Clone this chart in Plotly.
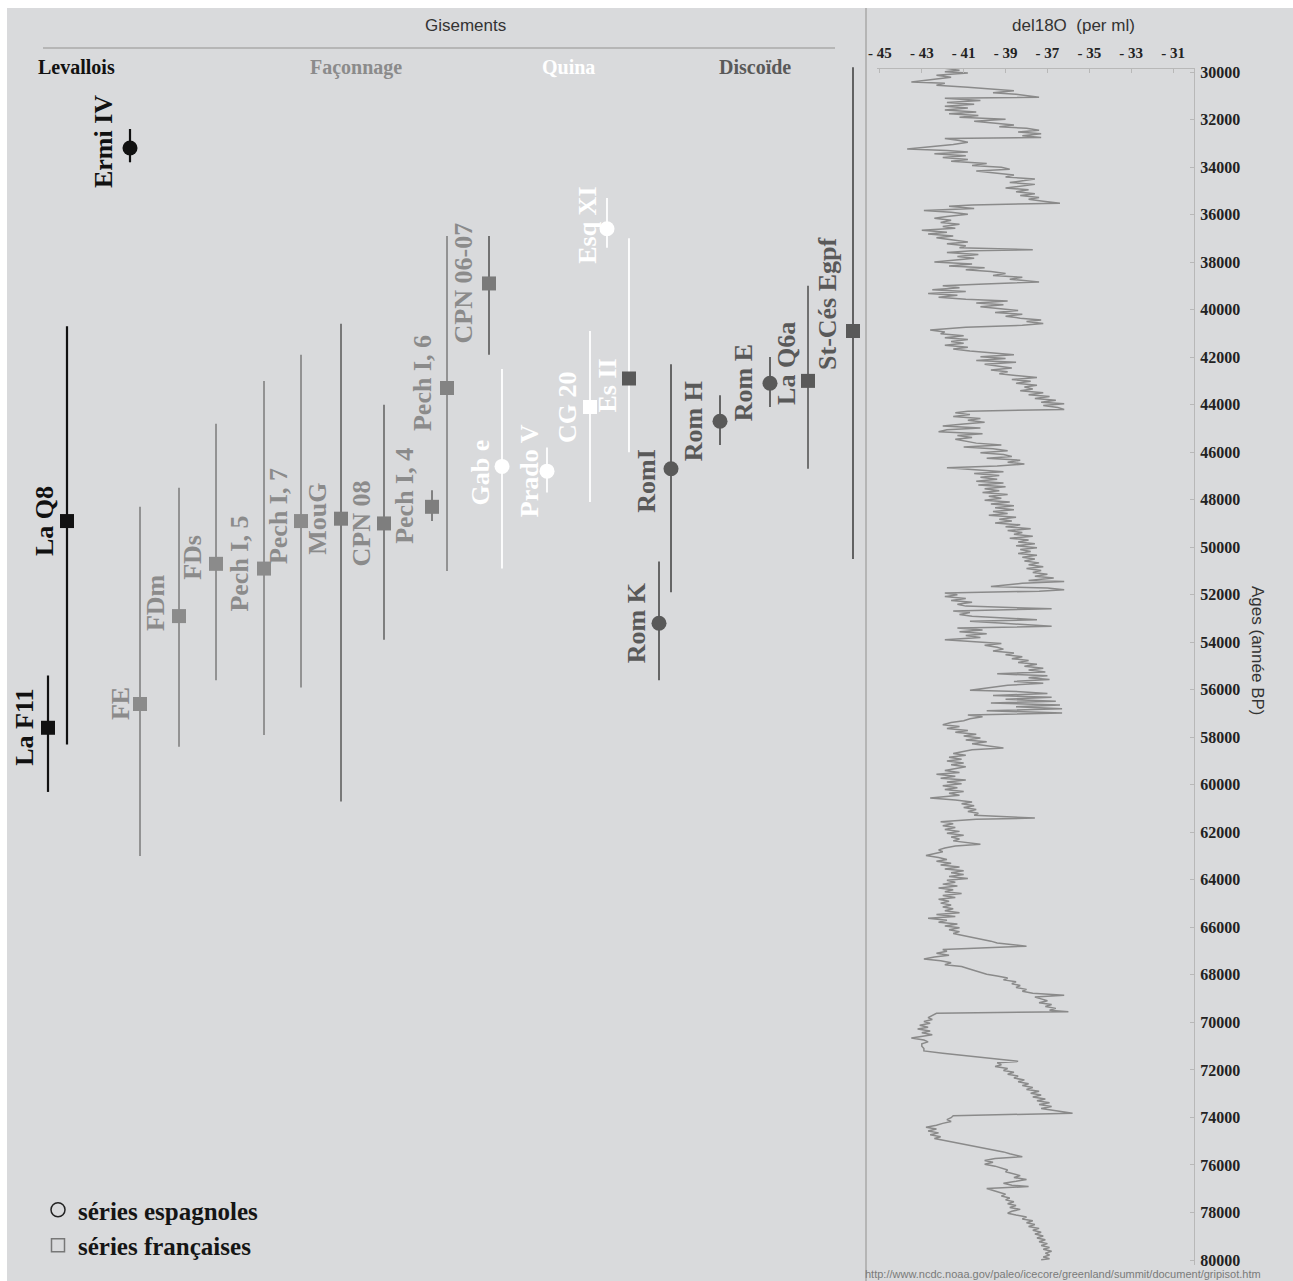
import plotly.graph_objects as go

# ---------------- data ----------------
site_name = ["La F11", "La Q8", "Ermi IV", "FE", "FDm", "FDs", "Pech I, 5", "Pech I, 7",
             "MouG", "CPN 08", "Pech I, 4", "Pech I, 6", "CPN 06-07", "Gab e", "Prado V",
             "CG 20", "Esq XI", "Es II", "RomI", "Rom K", "Rom H", "Rom E", "La Q6a", "St-Cés Egpf"]
site_column = [4.8, 6.7, 13.0, 14.0, 17.9, 21.6, 26.4, 30.1, 34.1, 38.4, 43.2, 44.7, 48.9,
               50.2, 54.7, 59.0, 60.7, 62.9, 67.1, 65.9, 72.0, 77.0, 80.8, 85.3]
site_age = [57600, 48900, 33200, 56600, 52900, 50700, 50900, 48900, 48800, 49000, 48300, 43300,
            38900, 46600, 46800, 44100, 36600, 42900, 46700, 53200, 44700, 43100, 43000, 40900]
site_young = [55400, 40700, 32400, 48300, 47500, 44800, 43000, 41900, 40600, 44000, 47600, 36900,
              36900, 42500, 45800, 40900, 35300, 37000, 42300, 50600, 43600, 42000, 39000, 29800]
site_old = [60300, 58300, 33800, 63000, 58400, 55600, 57900, 55900, 60700, 53900, 48900, 51000,
            41900, 50900, 47700, 48100, 37400, 46000, 51900, 55600, 45700, 44100, 46700, 50500]
site_industry = ["Levallois"] * 3 + ["Façonnage"] * 10 + ["Quina"] * 5 + ["Discoïde"] * 6
site_origin = ["fr", "fr", "es", "fr", "fr", "fr", "fr", "fr", "fr", "fr", "fr", "fr", "fr",
               "es", "es", "fr", "es", "fr", "es", "es", "es", "es", "fr", "fr"]

industry_headers = ["Levallois", "Façonnage", "Quina", "Discoïde"]

grip_age = [
    29830, 29845, 29930, 29990, 30040, 30140, 30220, 30300, 30420, 30470,
    30560, 30640, 30720, 30790, 30870, 30940, 31060, 31110, 31200, 31280,
    31360, 31440, 31520, 31600, 31680, 31760, 31830, 31900, 31990, 32070,
    32150, 32230, 32300, 32370, 32450, 32520, 32600, 32680, 32760, 32800,
    32880, 32960, 33050, 33240, 33300, 33370, 33440, 33520, 33600, 33680,
    33760, 33850, 33930, 34010, 34090, 34170, 34260, 34340, 34420, 34500,
    34570, 34650, 34730, 34800, 34880, 34960, 35040, 35120, 35200, 35280,
    35360, 35440, 35520, 35600, 35650, 35740, 35830, 35900, 35990, 36080,
    36160, 36240, 36330, 36410, 36500, 36580, 36660, 36740, 36820, 36900,
    36980, 37070, 37150, 37230, 37310, 37400, 37480, 37520, 37600, 37680,
    37760, 37840, 37920, 38000, 38080, 38160, 38240, 38320, 38400, 38480,
    38560, 38640, 38720, 38840, 38920, 39000, 39080, 39160, 39240, 39320,
    39400, 39480, 39560, 39640, 39720, 39800, 39880, 39960, 40040, 40120,
    40200, 40280, 40360, 40440, 40500, 40580, 40660, 40740, 40860, 40940,
    41020, 41100, 41180, 41260, 41340, 41420, 41500, 41580, 41660, 41740,
    41820, 41900, 41980, 42060, 42140, 42220, 42300, 42380, 42460, 42540,
    42620, 42700, 42780, 42860, 42940, 43020, 43100, 43180, 43260, 43340,
    43420, 43500, 43580, 43660, 43740, 43820, 43900, 43960, 44040, 44120,
    44200, 44280, 44340, 44420, 44500, 44580, 44660, 44740, 44820, 44900,
    44980, 45060, 45140, 45220, 45300, 45380, 45460, 45540, 45620, 45700,
    45780, 45860, 45940, 46020, 46100, 46180, 46260, 46340, 46420, 46500,
    46580, 46660, 46740, 46820, 46900, 46980, 47060, 47140, 47220, 47300,
    47380, 47460, 47540, 47620, 47700, 47780, 47860, 47940, 48020, 48100,
    48180, 48260, 48340, 48420, 48500, 48580, 48660, 48740, 48820, 48900,
    48980, 49060, 49140, 49220, 49300, 49380, 49460, 49540, 49620, 49700,
    49780, 49860, 49940, 50020, 50100, 50180, 50260, 50340, 50420, 50500,
    50580, 50660, 50740, 50820, 50900, 50980, 51060, 51140, 51220, 51300,
    51400, 51440, 51520, 51650, 51720, 51790, 51850, 51930, 52000, 52080,
    52160, 52240, 52320, 52400, 52480, 52590, 52680, 52750, 52830, 52910,
    53050, 53120, 53200, 53330, 53400, 53480, 53560, 53640, 53720, 53800,
    53890, 53970, 54050, 54130, 54210, 54290, 54370, 54450, 54530, 54610,
    54690, 54770, 54850, 54930, 55010, 55090, 55170, 55250, 55330, 55410,
    55490, 55570, 55650, 55730, 55810, 56020, 56080, 56160, 56240, 56320,
    56400, 56480, 56560, 56640, 56720, 56800, 56880, 56980, 57060, 57140,
    57220, 57300, 57380, 57470, 57550, 57630, 57710, 57790, 57870, 57950,
    58030, 58110, 58190, 58270, 58350, 58450, 58520, 58600, 58680, 58760,
    58840, 58920, 59000, 59080, 59160, 59240, 59320, 59400, 59480, 59560,
    59640, 59720, 59800, 59880, 59960, 60040, 60120, 60200, 60280, 60360,
    60440, 60560, 60640, 60720, 60800, 60880, 60960, 61040, 61120, 61200,
    61280, 61400, 61450, 61560, 61640, 61720, 61800, 61880, 61960, 62040,
    62120, 62200, 62280, 62360, 62500, 62580, 62660, 62740, 62820, 62900,
    62980, 63060, 63140, 63220, 63300, 63380, 63460, 63540, 63620, 63700,
    63780, 63860, 63940, 64020, 64100, 64180, 64260, 64340, 64420, 64500,
    64580, 64660, 64740, 64820, 64900, 64980, 65060, 65140, 65220, 65300,
    65380, 65460, 65540, 65620, 65700, 65780, 65860, 65940, 66020, 66100,
    66180, 66260, 66340, 66420, 66500, 66580, 66660, 66790, 66930, 67010,
    67090, 67170, 67250, 67330, 67410, 67490, 67570, 67650, 67730, 67810,
    67890, 67970, 68050, 68130, 68210, 68290, 68370, 68450, 68530, 68610,
    68690, 68770, 68860, 68930, 69010, 69090, 69170, 69250, 69330, 69410,
    69490, 69550, 69620, 69700, 69800, 69880, 69960, 70040, 70120, 70200,
    70280, 70360, 70440, 70520, 70600, 70660, 70740, 70820, 70900, 71000,
    71100, 71200, 71300, 71400, 71500, 71640, 71700, 71780, 71860, 71940,
    72020, 72100, 72180, 72260, 72340, 72420, 72500, 72580, 72660, 72740,
    72820, 72900, 72980, 73060, 73140, 73220, 73300, 73380, 73460, 73540,
    73620, 73700, 73820, 73930, 74010, 74090, 74170, 74250, 74330, 74410,
    74490, 74570, 74650, 74730, 74810, 74890, 74970, 75050, 75130, 75210,
    75290, 75370, 75450, 75530, 75650, 75730, 75810, 75890, 75970, 76050,
    76130, 76210, 76290, 76370, 76450, 76530, 76610, 76690, 76770, 76850,
    76910, 76990, 77070, 77150, 77230, 77310, 77390, 77470, 77550, 77630,
    77710, 77790, 77870, 77950, 78030, 78110, 78190, 78270, 78350, 78430,
    78510, 78590, 78670, 78750, 78830, 78910, 78990, 79070, 79150, 79230,
    79310, 79390, 79470, 79550, 79630, 79710, 79790, 79870, 79950, 79990,
]
grip_d18o = [
    -37.7, -41.9, -41.2, -41.9, -40.8, -42.3, -41.6, -42.4, -43.5, -41.9,
    -42.3, -40.8, -39.5, -38.6, -39.6, -38.5, -37.4, -41.9, -40.2, -41.8,
    -40.5, -41.9, -40.8, -41.9, -40.4, -41.7, -40.3, -41.2, -39.0, -40.5,
    -39.6, -38.6, -39.3, -38.0, -37.4, -38.4, -37.3, -38.2, -37.3, -41.9,
    -41.2, -40.8, -41.5, -43.7, -41.8, -40.8, -42.4, -40.9, -42.0, -40.8,
    -41.6, -39.9, -40.6, -39.2, -38.8, -40.4, -39.4, -38.6, -39.0, -37.6,
    -38.1, -38.8, -37.6, -38.4, -39.0, -37.9, -38.5, -37.6, -38.3, -37.4,
    -37.9, -37.2, -36.4, -40.6, -41.7, -40.5, -42.9, -41.6, -40.8, -41.8,
    -42.4, -41.6, -42.1, -41.2, -42.0, -41.4, -43.0, -41.8, -42.7, -41.5,
    -42.3, -41.5, -40.8, -41.8, -40.9, -41.2, -37.7, -40.6, -41.8, -40.3,
    -41.3, -40.5, -41.4, -42.4, -40.6, -41.7, -40.0, -40.9, -39.7, -39.0,
    -39.6, -38.2, -38.8, -37.4, -40.0, -42.0, -41.2, -42.5, -40.9, -42.7,
    -41.3, -42.2, -40.9, -38.9, -40.4, -39.1, -40.2, -39.3, -38.4, -39.5,
    -38.2, -39.0, -38.3, -37.3, -38.0, -37.2, -38.2, -40.9, -42.6, -41.9,
    -42.1, -41.0, -41.9, -40.8, -41.6, -41.0, -41.9, -40.8, -41.5, -40.7,
    -39.7, -38.6, -40.2, -39.0, -40.4, -38.5, -40.0, -39.3, -38.7, -39.7,
    -38.9, -39.3, -38.2, -37.5, -38.7, -37.8, -38.5, -37.5, -38.1, -37.7,
    -38.3, -37.2, -37.9, -36.9, -37.6, -36.6, -37.3, -36.2, -37.2, -36.5,
    -36.2, -40.8, -41.4, -40.7, -41.5, -40.2, -40.8, -40.0, -41.0, -42.0,
    -40.2, -41.8, -42.2, -40.1, -41.3, -40.6, -41.4, -40.9, -40.4, -39.2,
    -41.0, -39.6, -38.9, -40.2, -39.1, -38.7, -39.9, -38.3, -38.9, -38.1,
    -39.4, -41.8, -40.3, -39.1, -40.5, -39.3, -40.2, -39.4, -40.4, -39.1,
    -40.3, -39.0, -40.0, -39.3, -40.1, -38.9, -39.8, -39.2, -40.0, -38.8,
    -39.7, -38.6, -39.5, -38.6, -39.6, -38.9, -39.8, -38.5, -39.3, -38.7,
    -39.5, -38.3, -39.0, -37.8, -38.9, -38.2, -38.6, -37.7, -38.8, -37.9,
    -38.4, -37.6, -38.5, -37.5, -38.3, -37.8, -38.4, -37.5, -38.2, -37.6,
    -38.1, -37.4, -37.9, -37.2, -38.0, -37.3, -37.7, -37.0, -37.6, -36.7,
    -37.9, -36.2, -38.2, -39.7, -37.0, -36.2, -37.4, -41.9, -41.3, -41.9,
    -40.9, -41.6, -40.6, -41.3, -40.9, -36.8, -41.5, -40.7, -41.2, -40.6,
    -37.5, -40.7, -39.1, -36.8, -41.3, -40.1, -41.2, -39.9, -40.9, -40.2,
    -41.9, -40.5, -39.2, -40.0, -39.4, -39.1, -39.6, -38.6, -39.0, -38.2,
    -38.7, -37.9, -38.4, -37.5, -38.1, -37.2, -37.9, -37.1, -39.4, -37.0,
    -37.9, -36.9, -38.6, -37.2, -38.9, -40.7, -38.3, -37.0, -39.6, -36.8,
    -39.0, -36.6, -39.7, -36.4, -38.5, -36.3, -39.9, -36.3, -40.8, -40.1,
    -40.7, -41.0, -41.6, -42.0, -41.2, -41.8, -40.8, -41.4, -40.4, -41.0,
    -40.2, -40.9, -39.9, -40.6, -40.0, -39.1, -40.6, -41.0, -41.5, -40.9,
    -41.7, -41.1, -41.8, -41.0, -41.6, -40.9, -41.5, -41.9, -41.2, -42.3,
    -41.4, -42.1, -40.9, -41.8, -41.1, -42.0, -41.3, -41.9, -41.0, -41.7,
    -41.2, -42.6, -41.4, -40.6, -41.1, -40.5, -41.0, -40.4, -40.8, -40.3,
    -40.5, -37.6, -40.4, -42.1, -41.5, -42.0, -41.4, -41.9, -41.2, -41.8,
    -41.0, -41.6, -41.2, -41.5, -40.2, -41.4, -41.9, -42.2, -42.0, -42.5,
    -42.8, -42.2, -41.8, -42.3, -41.6, -42.1, -41.2, -41.9, -41.0, -41.6,
    -41.0, -41.7, -40.8, -41.8, -41.4, -42.0, -41.3, -42.2, -41.5, -41.9,
    -41.1, -42.0, -41.4, -42.2, -41.7, -42.1, -41.6, -42.0, -41.5, -41.9,
    -41.2, -42.3, -41.4, -42.7, -41.8, -42.2, -41.3, -41.9, -41.2, -41.7,
    -41.2, -41.5, -41.0, -40.6, -40.0, -39.7, -39.4, -38.0, -42.0, -41.8,
    -42.3, -41.7, -42.4, -42.9, -42.1, -41.6, -41.9, -41.1, -40.8, -40.5,
    -40.3, -39.9, -39.4, -38.9, -39.1, -38.5, -38.7, -38.3, -38.5, -38.0,
    -38.2, -37.7, -36.2, -37.6, -37.3, -37.0, -37.4, -36.8, -37.1, -36.6,
    -36.9, -36.0, -42.3, -42.5, -42.7, -42.5, -42.9, -42.6, -43.1, -42.7,
    -43.2, -42.6, -43.0, -42.5, -43.2, -43.5, -42.9, -42.7, -43.0, -43.0,
    -42.9, -42.9, -42.0, -41.0, -40.0, -38.4, -39.4, -39.2, -39.5, -38.9,
    -39.1, -38.6, -38.9, -38.4, -38.6, -38.1, -38.4, -37.9, -38.2, -37.7,
    -38.0, -37.4, -37.8, -37.3, -37.7, -37.1, -37.5, -36.9, -37.4, -36.8,
    -37.3, -36.6, -35.8, -41.5, -41.6, -41.8, -41.6, -42.0, -42.3, -42.8,
    -42.3, -42.7, -42.2, -42.6, -42.1, -42.4, -41.9, -41.5, -40.9, -40.4,
    -39.9, -39.5, -39.1, -38.8, -38.2, -39.5, -40.0, -39.6, -40.0, -39.5,
    -39.2, -38.9, -39.0, -38.6, -38.3, -38.6, -38.0, -38.5, -39.1, -38.7,
    -37.9, -39.9, -39.6, -39.3, -39.0, -39.2, -38.8, -39.0, -38.6, -38.9,
    -38.5, -38.8, -38.3, -38.7, -38.9, -38.5, -38.0, -38.2, -37.7, -38.0,
    -37.6, -37.9, -37.4, -37.7, -37.3, -37.6, -37.2, -37.5, -37.1, -37.4,
    -37.0, -37.3, -36.9, -37.2, -36.8, -37.1, -36.9, -37.2, -36.9, -37.3,
]

d18o_ticks = [-45, -43, -41, -39, -37, -35, -33, -31]
age_ticks = list(range(30000, 80001, 2000))

# ---------------- styling / layout helpers ----------------
W, H = 1293, 1281
BG = "#d9dadc"
SERIF = "Liberation Serif"
SANS = "Liberation Sans"

# pixel mapping of the age scale shared by both panels
AGE0_PX, K = 72.0, (1260.0 - 72.0) / 50000.0


def age_at(py):
    return 30000 + (py - AGE0_PX) / K


def fx(x):  # px -> paper fraction
    return x / W


def fy(y):
    return 1 - y / H


industry_color = {"Levallois": "#111111", "Façonnage": "#8b8b8b", "Quina": "#ffffff", "Discoïde": "#595959"}
marker_override = {"MouG": "#7e7e7e", "CPN 08": "#7e7e7e", "Pech I, 4": "#7e7e7e",
                   "Pech I, 6": "#838383", "CPN 06-07": "#7a7a7a", "Es II": "#595959"}
bar_override = {"MouG": "#6e6e6e", "CPN 08": "#747474", "Pech I, 4": "#777777",
                "CPN 06-07": "#666666", "La Q6a": "#656565", "St-Cés Egpf": "#555555"}
label_nudge = {  # (xshift, yshift) in px
    "Ermi IV": (-27, 6), "FE": (-20, 0), "FDm": (-24, 13), "FDs": (-23, 6), "Pech I, 5": (-24, 5),
    "Pech I, 7": (-23, 5), "Pech I, 4": (-27, 11), "Pech I, 6": (-25, 5), "CPN 06-07": (-26, 0),
    "Gab e": (-22, -6), "Prado V": (-18, 0), "Esq XI": (-19, 3), "Es II": (-22, -7),
    "RomI": (-24, -12), "Rom H": (-27, 0), "Rom E": (-27, 0), "La Q6a": (-21, 17),
    "St-Cés Egpf": (-25, 27),
}

fig = go.Figure()

for i, name in enumerate(site_name):
    base = industry_color[site_industry[i]]
    mcol = marker_override.get(name, base)
    bcol = bar_override.get(name, base)
    sym = "circle" if site_origin[i] == "es" else "square"
    fig.add_trace(go.Scatter(
        x=[site_column[i]], y=[site_age[i]], mode="markers",
        marker=dict(symbol=sym, size=15 if sym == "circle" else 14, color=mcol, line=dict(width=0)),
        error_y=dict(type="data", symmetric=False,
                     array=[site_old[i] - site_age[i]], arrayminus=[site_age[i] - site_young[i]],
                     color=bcol, thickness=2.2 if site_industry[i] == "Levallois" else 1.8, width=0),
        xaxis="x", yaxis="y", showlegend=False, hoverinfo="skip", cliponaxis=False,
    ))

# GRIP curve
fig.add_trace(go.Scatter(
    x=grip_d18o, y=grip_age, mode="lines",
    line=dict(color="#8a8a8a", width=1.5),
    xaxis="x2", yaxis="y2", showlegend=False, hoverinfo="skip",
))

# legend entries
fig.add_trace(go.Scatter(x=[None], y=[None], mode="markers", name="<b>séries espagnoles</b>",
                         marker=dict(symbol="circle-open", size=14, color="#222", line=dict(width=1.5)),
                         xaxis="x", yaxis="y"))
fig.add_trace(go.Scatter(x=[None], y=[None], mode="markers", name="<b>séries françaises</b>",
                         marker=dict(symbol="square-open", size=13, color="#777", line=dict(width=1.5)),
                         xaxis="x", yaxis="y"))

annotations = []
for i, name in enumerate(site_name):
    base = industry_color[site_industry[i]]
    xs, ys = label_nudge.get(name, (-23, 0))
    annotations.append(dict(
        x=site_column[i], y=site_age[i], xref="x", yref="y", text=f"<b>{name}</b>",
        textangle=-90, showarrow=False, xanchor="center", yanchor="middle",
        xshift=xs, yshift=ys, font=dict(family=SERIF, size=26, color=base),
    ))

header_px = {"Levallois": 76, "Façonnage": 356, "Quina": 568, "Discoïde": 755}
for h in industry_headers:
    annotations.append(dict(x=fx(header_px[h]), y=fy(67), xref="paper", yref="paper",
                            text=f"<b>{h}</b>", showarrow=False, xanchor="center", yanchor="middle",
                            font=dict(family=SERIF, size=20, color=industry_color[h])))

annotations += [
    dict(x=fx(466), y=fy(25), xref="paper", yref="paper", text="Gisements", showarrow=False,
         xanchor="center", yanchor="middle", font=dict(family=SANS, size=17, color="#333")),
    dict(x=fx(1073), y=fy(25), xref="paper", yref="paper", text="del18O  (per ml)", showarrow=False,
         xanchor="center", yanchor="middle", font=dict(family=SANS, size=17, color="#333")),
    dict(x=fx(1258), y=fy(650), xref="paper", yref="paper", text="Ages (année BP)", showarrow=False,
         textangle=90, xanchor="center", yanchor="middle", font=dict(family=SANS, size=17, color="#333")),
    dict(x=fx(1063), y=fy(1274), xref="paper", yref="paper",
         text="http://www.ncdc.noaa.gov/paleo/icecore/greenland/summit/document/gripisot.htm",
         showarrow=False, xanchor="center", yanchor="middle",
         font=dict(family=SANS, size=11, color="#7a7a7a")),
]

shapes = [
    dict(type="rect", xref="paper", yref="paper", x0=0, x1=fx(7), y0=0, y1=1,
         fillcolor="white", line=dict(width=0), layer="below"),
    dict(type="rect", xref="paper", yref="paper", x0=0, x1=1, y0=fy(8), y1=1,
         fillcolor="white", line=dict(width=0), layer="below"),
    dict(type="line", xref="paper", yref="paper", x0=fx(866), x1=fx(866), y0=0, y1=fy(8),
         line=dict(color="#a9a9a9", width=1.5)),
    dict(type="line", xref="paper", yref="paper", x0=fx(43), x1=fx(835), y0=fy(48), y1=fy(48),
         line=dict(color="#aaaaaa", width=1.5)),
]

fig.update_layout(
    width=W, height=H,
    margin=dict(l=0, r=0, t=0, b=0, autoexpand=False),
    paper_bgcolor=BG, plot_bgcolor="rgba(0,0,0,0)",
    xaxis=dict(domain=[0, fx(866)], range=[0, 86.6], visible=False, fixedrange=True),
    yaxis=dict(domain=[0, 1], range=[age_at(H), age_at(0)], visible=False, fixedrange=True),
    xaxis2=dict(domain=[fx(877), fx(1194)], range=[-45.14, -30.0], anchor="y2", side="top",
                tickvals=d18o_ticks, ticktext=[f"- {abs(v)}" for v in d18o_ticks],
                tickfont=dict(family=SERIF, size=15, color="#222", weight="bold"),
                showline=True, linecolor="#b8b8b8", linewidth=1, showgrid=False, zeroline=False,
                ticks="inside", ticklen=4, tickcolor="#b8b8b8", ticklabelstandoff=4),
    yaxis2=dict(domain=[fy(1265), fy(69)], range=[age_at(1265), age_at(69)], anchor="x2",
                side="right", tickvals=age_ticks, tickformat="d",
                tickfont=dict(family=SERIF, size=16, color="#222", weight="bold"),
                showline=True, linecolor="#b8b8b8", linewidth=1, showgrid=False, zeroline=False,
                ticks="inside", ticklen=4, tickcolor="#b8b8b8", ticklabelstandoff=2),
    showlegend=True,
    legend=dict(x=fx(38), y=fy(1187), xanchor="left", yanchor="top", bgcolor="rgba(0,0,0,0)",
                font=dict(family=SERIF, size=25, color="#151515"), itemwidth=30, tracegroupgap=0),
    annotations=annotations, shapes=shapes,
)

# the page is exactly the figure: drop the browser's default body margin
fig.write_html("out.html", config={"displayModeBar": False},
               post_script="document.body.style.margin='0';")
